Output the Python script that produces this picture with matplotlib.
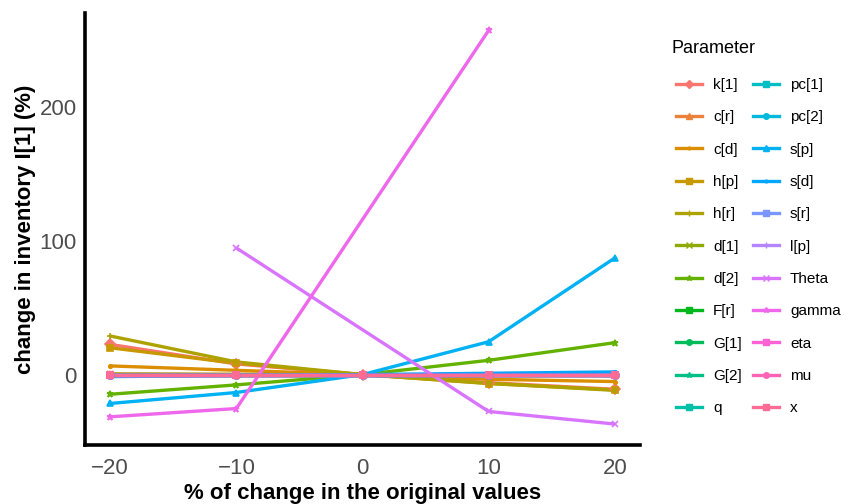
import numpy as np
import matplotlib
matplotlib.use("Agg")
import matplotlib.pyplot as plt
from matplotlib.lines import Line2D

plt.rcParams['font.family'] = ['Liberation Sans', 'DejaVu Sans']

nan = np.nan
x_vals = [-20, -10, 0, 10, 20]
params = ["k[1]", "c[r]", "c[d]", "h[p]", "h[r]", "d[1]", "d[2]", "F[r]", "G[1]", "G[2]", "q",
          "pc[1]", "pc[2]", "s[p]", "s[d]", "s[r]", "l[p]", "Theta", "gamma", "eta", "mu", "x"]

k1 = [22.6, 8.0, 0, -6.0, -11.0]
c_r = [0.5, 0.2, 0, -0.2, -0.4]
c_d = [6.5, 3.2, 0, -3.5, -5.2]
h_p = [20.1, 8.5, 0, -6.7, -11.4]
h_r = [28.9, 9.5, 0, -6.5, -11.8]
d1 = [0.3, 0.1, 0, -0.1, -0.3]
d2 = [-14.7, -7.7, 0, 10.7, 23.9]
F_r = [0, 0, 0, 0, 0]
G1 = [0, 0, 0, 0, 0]
G2 = [0, 0, 0, 0, 0]
q = [0, 0, 0, 0, 0]
pc1 = [0, 0, 0, 0, 0]
pc2 = [0, 0, 0, 0, 0]
s_p = [-21.6, -13.4, 0, 24.6, 87.3]
s_d = [-1.5, -0.7, 0, 1.0, 2.0]
s_r = [0, 0, 0, 0, 0]
l_p = [0, 0, 0, 0, 0]
theta = [nan, 94.8, nan, -27.6, -37.0]
gamma = [-31.6, -25.4, nan, 257.7, nan]
eta = [0, 0, 0, 0, 0]
mu = [0, 0, 0, 0, 0]
x_s = [0, 0, 0, 0, 0]

series = [k1, c_r, c_d, h_p, h_r, d1, d2, F_r, G1, G2, q,
          pc1, pc2, s_p, s_d, s_r, l_p, theta, gamma, eta, mu, x_s]

markers = ['D', '^', '.', 's', '+', 'x', '*', 's', 'o', '*', 's',
           's', 'o', '^', '.', 's', '+', 'x', '*', 's', 'o', 's']


def hcl_to_rgb(h, c=100.0, l=65.0):
    Xn, Yn, Zn = 95.047, 100.0, 108.883
    un = 4 * Xn / (Xn + 15 * Yn + 3 * Zn)
    vn = 9 * Yn / (Xn + 15 * Yn + 3 * Zn)
    hr = np.deg2rad(h)
    U = c * np.cos(hr)
    V = c * np.sin(hr)
    Y = Yn * ((l + 16) / 116) ** 3 if l > 8 else Yn * l / 903.3
    u = U / (13 * l) + un
    v = V / (13 * l) + vn
    X = 9.0 * Y * u / (4 * v)
    Z = -X / 3 - 5 * Y + 3 * Y / v
    X, Y, Z = X / 100, Y / 100, Z / 100
    r = 3.240479 * X - 1.537150 * Y - 0.498535 * Z
    g = -0.969256 * X + 1.875992 * Y + 0.041556 * Z
    b = 0.055648 * X - 0.204043 * Y + 1.057311 * Z

    def gam(t):
        t = 1.055 * t ** (1 / 2.4) - 0.055 if t > 0.0031308 else 12.92 * t
        return min(max(t, 0), 1)
    return (gam(r), gam(g), gam(b))


n = len(params)
hues = np.linspace(15, 375, n + 1)[:n]
colors = [hcl_to_rgb(h % 360) for h in hues]

fig = plt.figure(figsize=(8.48, 5.04), dpi=100)
ax = fig.add_axes([85 / 848, 1 - 445 / 504, (640 - 85) / 848, (445 - 13) / 504])

lw = 2.4
for i, (name, ys) in enumerate(zip(params, series)):
    xs = np.array(x_vals, float)
    ya = np.array(ys, float)
    m = ~np.isnan(ya)
    ax.plot(xs[m], ya[m], color=colors[i], lw=lw, zorder=2 + i * 0.01,
            solid_capstyle='butt')
for i, (name, ys) in enumerate(zip(params, series)):
    xs = np.array(x_vals, float)
    ya = np.array(ys, float)
    m = ~np.isnan(ya)
    ax.plot(xs[m], ya[m], linestyle='none', marker=markers[i], color=colors[i],
            ms=5, mew=1.2, zorder=3 + i * 0.01)

ax.set_xlim(-22, 22)
ax.set_ylim(-52.7, 270.7)
ax.set_xticks([-20, -10, 0, 10, 20])
ax.set_yticks([0, 100, 200])
for s in ['top', 'right']:
    ax.spines[s].set_visible(False)
for s in ['left', 'bottom']:
    ax.spines[s].set_linewidth(2.6)
    ax.spines[s].set_color('black')
ax.tick_params(length=0, labelsize=16, labelcolor='#4D4D4D')
ax.tick_params(axis='x', pad=9.5)
ax.tick_params(axis='y', pad=6)
ax.set_xlabel('% of change in the original values', fontsize=16, fontweight='bold', labelpad=2.5)
ax.set_ylabel('change in inventory I[1] (%)', fontsize=16, fontweight='bold', labelpad=2.5)

handles = [Line2D([0], [0], color=colors[i], lw=lw, marker=markers[i], ms=4, mew=1.0)
           for i in range(n)]
leg = fig.legend(handles, params, ncol=2, loc='upper left', bbox_to_anchor=(665.5 / 848, 1 - 29 / 504),
                 frameon=False, title='Parameter', fontsize=11, title_fontsize=13,
                 handlelength=1.7, handletextpad=0.72, columnspacing=0.72, labelspacing=1.2,
                 alignment='left', borderaxespad=0.3)
leg._legend_box.sep = 1.2 * 11 + 2.2
leg.get_title().set_x(-5)

fig.savefig('out.png', dpi=100)
